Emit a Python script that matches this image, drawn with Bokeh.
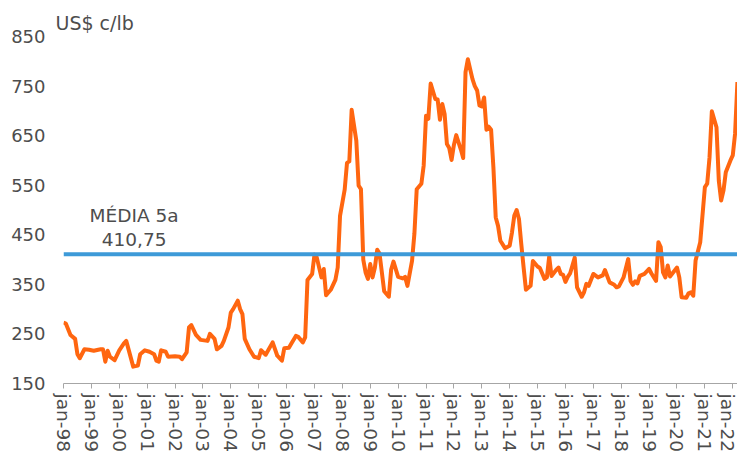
import math
from bokeh.plotting import figure
from bokeh.models import Range1d, FixedTicker, Span, Label
from bokeh.embed import file_html
from bokeh.resources import INLINE

# ---- data ----
months = [
    "1998-01", "1998-02", "1998-04", "1998-06", "1998-07", "1998-08", "1998-10", "1998-12",
    "1999-02", "1999-05", "1999-06", "1999-07", "1999-08", "1999-09", "1999-11",
    "2000-01", "2000-03", "2000-04", "2000-07", "2000-09", "2000-10", "2000-12",
    "2001-02", "2001-04", "2001-05", "2001-06", "2001-07", "2001-09", "2001-10",
    "2002-01", "2002-03", "2002-04", "2002-06", "2002-07", "2002-08", "2002-10", "2002-12",
    "2003-03", "2003-04", "2003-06", "2003-07", "2003-09", "2003-10", "2003-12",
    "2004-01", "2004-02", "2004-04", "2004-05", "2004-06", "2004-07", "2004-09", "2004-11",
    "2005-01", "2005-02", "2005-04", "2005-07", "2005-09", "2005-11", "2005-12",
    "2006-02", "2006-03", "2006-05", "2006-06", "2006-08", "2006-09", "2006-10", "2006-12",
    "2007-01", "2007-02", "2007-04", "2007-05", "2007-06", "2007-08", "2007-10", "2007-11", "2007-12",
    "2008-02", "2008-03", "2008-04", "2008-05", "2008-07", "2008-08", "2008-09", "2008-10", "2008-11", "2008-12",
    "2009-01", "2009-02", "2009-03", "2009-04", "2009-05", "2009-07", "2009-09", "2009-10", "2009-11",
    "2010-01", "2010-03", "2010-04", "2010-05", "2010-07", "2010-08", "2010-09", "2010-11", "2010-12",
    "2011-01", "2011-02", "2011-03", "2011-05", "2011-06", "2011-07", "2011-08", "2011-09", "2011-10", "2011-11", "2011-12",
    "2012-01", "2012-02", "2012-04", "2012-05", "2012-06", "2012-07", "2012-09", "2012-10", "2012-11", "2012-12",
    "2013-01", "2013-02", "2013-03", "2013-04", "2013-05", "2013-06", "2013-07", "2013-08", "2013-09", "2013-11",
    "2014-01", "2014-02", "2014-03", "2014-04", "2014-05", "2014-06", "2014-07", "2014-08", "2014-10", "2014-11",
    "2015-01", "2015-02", "2015-04", "2015-05", "2015-06", "2015-07", "2015-09", "2015-10", "2015-11", "2015-12",
    "2016-01", "2016-02", "2016-03", "2016-05", "2016-06", "2016-08", "2016-09", "2016-10", "2016-11",
    "2017-01", "2017-03", "2017-05", "2017-06", "2017-08", "2017-10", "2017-11", "2017-12",
    "2018-02", "2018-04", "2018-05", "2018-06", "2018-07", "2018-08", "2018-09", "2018-11",
    "2019-01", "2019-02", "2019-04", "2019-05", "2019-06", "2019-07", "2019-08", "2019-09", "2019-10", "2019-11",
    "2020-01", "2020-02", "2020-03", "2020-05", "2020-06", "2020-07", "2020-08", "2020-09", "2020-11",
    "2021-01", "2021-02", "2021-03", "2021-04", "2021-06", "2021-07", "2021-08", "2021-09", "2021-10", "2021-12",
    "2022-01", "2022-02", "2022-03",
]
prices = [
    273, 271, 248, 240, 209, 201, 219, 218,
    216, 219, 219, 194, 216, 204, 197,
    217, 231, 236, 184, 186, 209, 217,
    214, 209, 196, 194, 217, 214, 204,
    205, 204, 199, 213, 263, 268, 248, 238,
    236, 250, 240, 219, 226, 236, 263,
    293, 300, 317, 300, 290, 240, 219, 204,
    201, 217, 208, 233, 206, 196, 221,
    222, 230, 246, 244, 233, 243, 359, 371,
    410, 404, 364, 381, 328, 339, 359, 384, 488,
    541, 595, 598, 702, 640, 549, 542, 400, 374, 361,
    391, 364, 384, 420, 412, 336, 325, 380, 396,
    365, 362, 365, 347, 398, 452, 542, 553, 590,
    690, 684, 755, 724, 723, 682, 714, 694, 633, 625, 601,
    631, 651, 622, 605, 778, 804, 764, 750, 741, 711,
    709, 727, 662, 668, 662, 586, 485, 468, 438, 423,
    428, 455, 489, 500, 482, 431, 384, 339, 347, 397,
    386, 383, 361, 364, 406, 367, 379, 384, 371, 369,
    355, 365, 372, 404, 344, 325, 334, 351, 347,
    371, 364, 368, 379, 354, 349, 344, 346,
    364, 401, 357, 349, 356, 352, 367, 371,
    381, 372, 357, 435, 425, 374, 364, 388, 366, 372,
    384, 364, 324, 323, 332, 334, 327, 398, 435,
    546, 553, 606, 699, 667, 559, 519, 539, 576, 600,
    610, 654, 758,
]
average_5y = 410.75
average_label = ["MÉDIA 5a", "410,75"]
unit_label = "US$ c/lb"
tick_years = list(range(1998, 2023))
tick_labels = ["jan-%02d" % (y % 100) for y in tick_years]
y_ticks = [150, 250, 350, 450, 550, 650, 750, 850]

xs = [int(m[:4]) + (int(m[5:]) - 1) / 12.0 for m in months]

FONT = "DejaVu Sans"
TXT = "#4d4d4d"

p = figure(width=737, height=455, output_backend="svg", toolbar_location=None,
           x_range=Range1d(1998, 2022.17), y_range=Range1d(150, 850),
           min_border_left=63, min_border_right=0, min_border_top=36, min_border_bottom=72)
p.outline_line_color = None
p.xgrid.visible = False
p.ygrid.visible = False
p.background_fill_color = "white"
p.border_fill_color = "white"

p.title.text = unit_label
p.title.text_font = FONT
p.title.text_font_size = "19px"
p.title.text_font_style = "normal"
p.title.text_color = TXT
p.title.align = "left"
p.title.offset = -8
p.title.standoff = 5

p.line(xs, prices, line_color="#ff6610", line_width=4, line_join="round")

avg = Span(location=average_5y, dimension="width", line_color="#3d9ad8", line_width=4)
p.add_layout(avg)

# x axis
p.xaxis.ticker = FixedTicker(ticks=tick_years)
p.xaxis.major_label_overrides = {y: lab for y, lab in zip(tick_years, tick_labels)}
p.xaxis.major_label_orientation = -math.pi / 2
p.xaxis.axis_line_color = "#a6a6a6"
p.xaxis.major_tick_line_color = "#a6a6a6"
p.xaxis.major_tick_in = 0
p.xaxis.major_tick_out = 5
p.xaxis.minor_tick_line_color = None
p.xaxis.major_label_standoff = 5
p.xaxis.major_label_text_font = FONT
p.xaxis.major_label_text_font_size = "18.5px"
p.xaxis.major_label_text_color = TXT

# y axis
p.yaxis.ticker = FixedTicker(ticks=y_ticks)
p.yaxis.axis_line_color = None
p.yaxis.major_tick_line_color = None
p.yaxis.minor_tick_line_color = None
p.yaxis.major_tick_in = 0
p.yaxis.major_tick_out = 0
p.yaxis.major_label_standoff = 18
p.yaxis.major_label_text_font = FONT
p.yaxis.major_label_text_font_size = "18px"
p.yaxis.major_label_text_color = TXT

p.add_layout(Label(x=2000.53, y=488, text=average_label[0], text_font=FONT,
                   text_font_size="18.5px", text_color=TXT, text_align="center",
                   text_baseline="alphabetic"))
p.add_layout(Label(x=2000.53, y=441, text=average_label[1], text_font=FONT,
                   text_font_size="18.5px", text_color=TXT, text_align="center",
                   text_baseline="alphabetic"))

open("out.html", "w").write(file_html(p, INLINE))
